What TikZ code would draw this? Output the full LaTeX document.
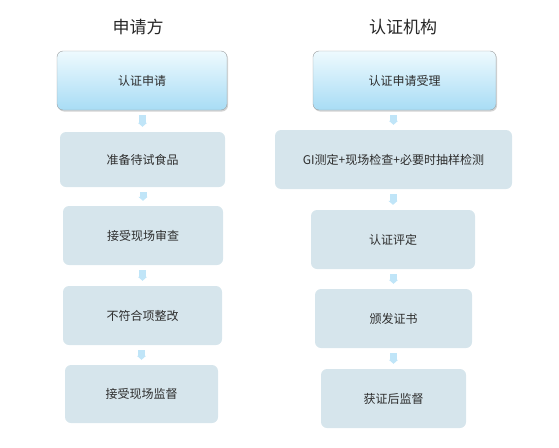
\documentclass[tikz,border=0pt]{standalone}
\usepackage{fontspec}
\setmainfont{Noto Sans CJK SC}
\usepackage{tikz}
\usetikzlibrary{arrows.meta,shadows,positioning}
\definecolor{colorBox}{RGB}{214,229,236}
\definecolor{colorTopA}{RGB}{238,250,254}
\definecolor{colorTopB}{RGB}{168,220,245}
\definecolor{colorFlow}{RGB}{192,229,248}
\definecolor{colorText}{RGB}{45,45,45}
\tikzset{
   every path/.style={>=stealth},
   stepbox/.style={fill=colorBox, rounded corners=6pt, text=colorText, inner sep=0pt,
                   font=\fontsize{12}{14}\selectfont},
   topbox/.style={stepbox, top color=colorTopA, bottom color=colorTopB, draw=gray!75,
                  drop shadow={opacity=0.35, shadow xshift=1pt, shadow yshift=-1.5pt}},
   flow/.style={-{Triangle[width=9pt,length=4pt]}, draw=colorFlow, line width=7pt,
                shorten <=5pt, shorten >=5pt},
   head/.style={text=black!85, font=\fontsize{17}{20}\selectfont},
}

\begin{document}
\begin{tikzpicture}[x=1pt, y=-1pt]

\useasboundingbox (0,0) rectangle (559,447);

% =========================================================
% headers
% =========================================================

\node[head] (hA) at (138,27) {申请方};
\node[head] (hB) at (403,27) {认证机构};


% =========================================================
% applicant
% =========================================================

\node[topbox, minimum width=170pt, minimum height=59pt] (a1) at (142,80.5) {认证申请};
\node[stepbox, minimum width=165pt, minimum height=55pt] (a2) at (142.5,159.5) {准备待试食品};
\node[stepbox, minimum width=160pt, minimum height=59pt] (a3) at (143,235.5) {接受现场审查};
\node[stepbox, minimum width=159pt, minimum height=59pt] (a4) at (142.5,315.5) {不符合项整改};
\node[stepbox, minimum width=153pt, minimum height=58pt] (a5) at (141.5,394) {接受现场监督};

\draw[flow] (a2.north |- a1.south) -- (a2.north);
\draw[flow] (a3.north |- a2.south) -- (a3.north);
\draw[flow] (a4.north |- a3.south) -- (a4.north);
\draw[flow] (a5.north |- a4.south) -- (a5.north);


% =========================================================
% certification body
% =========================================================

\node[topbox, minimum width=183pt, minimum height=59pt] (b1) at (404.5,80.5) {认证申请受理};
\node[stepbox, minimum width=237pt, minimum height=59pt] (b2) at (393.5,159.5) {GI测定+现场检查+必要时抽样检测};
\node[stepbox, minimum width=164pt, minimum height=59pt] (b3) at (393,239.5) {认证评定};
\node[stepbox, minimum width=157pt, minimum height=59pt] (b4) at (393.5,318.5) {颁发证书};
\node[stepbox, minimum width=145pt, minimum height=59pt] (b5) at (393.5,398.5) {获证后监督};

\draw[flow] (b2.north |- b1.south) -- (b2.north);
\draw[flow] (b3.north |- b2.south) -- (b3.north);
\draw[flow] (b4.north |- b3.south) -- (b4.north);
\draw[flow] (b5.north |- b4.south) -- (b5.north);

\end{tikzpicture}
\end{document}
